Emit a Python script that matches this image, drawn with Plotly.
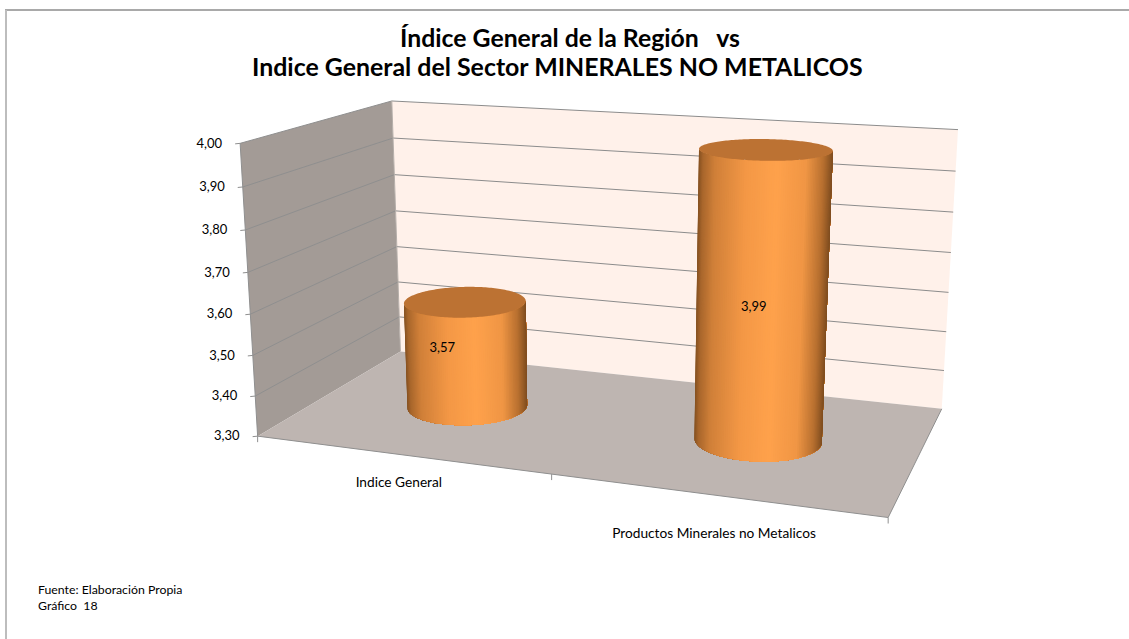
import numpy as np
import plotly.graph_objects as go

# ---- data ----
categories = ["Indice General", "Productos Minerales no Metalicos"]
values = [3.57, 3.99]
value_labels = ["3,57", "3,99"]
axis_ticks = [3.3, 3.4, 3.5, 3.6, 3.7, 3.8, 3.9, 4.0]
tick_labels = ["3,30", "3,40", "3,50", "3,60", "3,70", "3,80", "3,90", "4,00"]
title_lines = ["Índice General de la Región   vs", "Indice General del Sector MINERALES NO METALICOS"]
notes = ["Fuente: Elaboración Propia", "Gráfico  18"]

W, H = 1129, 639
# ---- oblique view of the chart box (the reference is a 3-D column chart) ----
EYE = np.array([1.0365, -2.9271, 0.7776])
AIM = np.array([0.0084, -0.0537, -0.0627])
BOX = np.array([1.243, 0.6244, 0.5804])
FOCAL, CX, CY = 1623.4, 603.155, 320.526
fw = (AIM - EYE) / np.linalg.norm(AIM - EYE)
rt = np.cross(fw, [0, 0, 1.0]); rt /= np.linalg.norm(rt)
up = np.cross(rt, fw)
ZMIN, ZMAX = axis_ticks[0], axis_ticks[-1]


def world(u, v, val):
    return (np.array([u, v, (val - ZMIN) / (ZMAX - ZMIN)]) - 0.5) * BOX


def to_px(w):
    d = w - EYE
    z = d @ fw
    return CX + FOCAL * (d @ rt) / z, CY - FOCAL * (d @ up) / z


def project(u, v, val):
    return to_px(world(u, v, val))


fig = go.Figure()


def poly(points, color):
    xs = [p[0] for p in points]
    ys = [p[1] for p in points]
    fig.add_trace(go.Scatter(x=xs + xs[:1], y=ys + ys[:1], mode="none", fill="toself", fillcolor=color,
                             hoverinfo="skip", showlegend=False))


def path(points, color, width=1.0):
    fig.add_trace(go.Scatter(x=[p[0] for p in points], y=[p[1] for p in points], mode="lines",
                             line=dict(color=color, width=width), hoverinfo="skip", showlegend=False))


# walls and floor
poly([project(0, 0, ZMIN), project(0, 1, ZMIN), project(0, 1, ZMAX), project(0, 0, ZMAX)], "#A39B96")
poly([project(0, 1, ZMIN), project(1, 1, ZMIN), project(1, 1, ZMAX), project(0, 1, ZMAX)], "#FFF1EA")
poly([project(0, 0, ZMIN), project(1, 0, ZMIN), project(1, 1, ZMIN), project(0, 1, ZMIN)], "#BEB5B1")

# gridlines along both walls
for t in axis_ticks[1:]:
    path([project(0, 0, t), project(0, 1, t)], "#8F8F8F", 1)
    path([project(0, 1, t), project(1, 1, t)], "#8C8C8C", 1)
path([project(0, 1, ZMIN), project(0, 1, ZMAX)], "#B5AEA9", 1)
# axis lines and tick marks
path([project(0, 0, ZMIN), project(0, 0, ZMAX)], "#8F8F8F", 1)
path([project(0, 0, ZMIN), project(1, 0, ZMIN), project(1, 1, ZMIN)], "#8F8F8F", 1)
for t in axis_ticks:
    x, y = project(0, 0, t)
    path([(x - 5, y + 0.5), (x, y)], "#8F8F8F", 1)
for u in (0, 0.5, 1):
    x, y = project(u, 0, ZMIN)
    path([(x, y), (x, y + 6)], "#8F8F8F", 1)
fig.add_trace(go.Scatter(x=[project(0, 0, t)[0] - 18 for t in axis_ticks],
                         y=[project(0, 0, t)[1] + 1 for t in axis_ticks],
                         text=tick_labels, mode="text", textposition="middle left",
                         textfont=dict(family="Lato", size=13, color="#000000"),
                         hoverinfo="skip", showlegend=False))

# cylinders
SHADE_T = [0.0, 0.03, 0.12, 0.35, 0.58, 0.8, 0.93, 1.0]
SHADE_C = [(0x86, 0x52, 0x22), (0xA8, 0x66, 0x2C), (0xD0, 0x80, 0x39), (0xF4, 0x98, 0x46),
           (0xFF, 0xA2, 0x4C), (0xF0, 0x96, 0x45), (0xB8, 0x70, 0x30), (0x80, 0x4E, 0x20)]
TOP_COLOR = "#BC7233"
CENTER_U = [0.25, 0.75]
CENTER_V = 0.5
RADIUS = 0.124
N = 180
for cu, val in zip(CENTER_U, values):
    c0 = world(cu, CENTER_V, ZMIN)
    c1 = world(cu, CENTER_V, val)
    # the front half of the rim, from the left silhouette to the right one
    view = (c0 - EYE) * np.array([1, 1, 0])
    a0 = np.arctan2(view[1], view[0]) + np.pi
    front = a0 - np.arccos(np.clip(RADIUS / np.linalg.norm(view), -1, 1))
    back = a0 + np.arccos(np.clip(RADIUS / np.linalg.norm(view), -1, 1))
    ang = np.linspace(back, front, N // 2 + 1)
    rim = np.stack([np.cos(ang), np.sin(ang), 0 * ang], axis=1) * RADIUS
    xs_mid = [to_px((c0 + c1) / 2 + r)[0] for r in rim]
    if xs_mid[0] > xs_mid[-1]:
        rim = rim[::-1]
        xs_mid = xs_mid[::-1]
    lo, hi = xs_mid[0], xs_mid[-1]
    # each band is painted from its left edge to the right silhouette, so no seams appear
    for i in range(len(rim) - 1):
        t = ((xs_mid[i] + xs_mid[i + 1]) / 2 - lo) / (hi - lo)
        col = [float(np.interp(t, SHADE_T, [c[k] for c in SHADE_C])) for k in range(3)]
        color = "rgb(%d,%d,%d)" % tuple(col)
        poly([to_px(c0 + r) for r in rim[i:]] + [to_px(c1 + r) for r in rim[i:][::-1]], color)
    full = np.linspace(0, 2 * np.pi, N, endpoint=False)
    poly([to_px(c1 + np.array([np.cos(a), np.sin(a), 0.0]) * RADIUS) for a in full], TOP_COLOR)

# value labels
LABEL_SHIFT = [(-24, -5), (-8, 10)]
lx, ly = [], []
for cu, val, s in zip(CENTER_U, values, LABEL_SHIFT):
    x, y = project(cu, CENTER_V, (ZMIN + val) / 2)
    lx.append(x + s[0]); ly.append(y + s[1])
fig.add_trace(go.Scatter(x=lx, y=ly, text=value_labels, mode="text", textposition="middle center",
                         textfont=dict(family="Lato", size=13, color="#000000"),
                         hoverinfo="skip", showlegend=False))

# category labels
CAT_U = [0.25, 0.75]
CAT_SHIFT = [(-1, 29), (0, 40)]
cx_, cy_ = [], []
for u, s in zip(CAT_U, CAT_SHIFT):
    x, y = project(u, 0, ZMIN)
    cx_.append(x + s[0]); cy_.append(y + s[1])
fig.add_trace(go.Scatter(x=cx_, y=cy_, text=categories, mode="text", textposition="middle center",
                         textfont=dict(family="Lato", size=13.7, color="#000000"),
                         hoverinfo="skip", showlegend=False))

fig.update_layout(
    width=W, height=H, autosize=False,
    margin=dict(l=0, r=0, t=0, b=0),
    paper_bgcolor="#FFFFFF", plot_bgcolor="#FFFFFF",
    xaxis=dict(range=[0, W], visible=False, fixedrange=True),
    yaxis=dict(range=[H, 0], visible=False, fixedrange=True),
    title=dict(text="<b>" + title_lines[0] + "</b>",
               x=570 / W, xanchor="center", y=1 - 38 / H, yanchor="middle",
               font=dict(family="Lato", size=24.8, color="#000000")),
    annotations=[dict(text="<b>" + title_lines[1] + "</b>", xref="paper", yref="paper", x=557 / W, y=1 - 66 / H,
                      xanchor="center", yanchor="middle", showarrow=False,
                      font=dict(family="Lato", size=24.9, color="#000000")),
                 dict(text=notes[0] + "<br>" + notes[1], xref="paper", yref="paper", x=36 / W, y=1 - 580 / H,
                      xanchor="left", yanchor="top", align="left", showarrow=False,
                      font=dict(family="Lato", size=12.3, color="#000000"))],
    shapes=[dict(type="line", xref="x", yref="y", x0=5, x1=W, y0=10, y1=10, line=dict(color="#8C8C8C", width=1.5)),
            dict(type="line", xref="x", yref="y", x0=6, x1=6, y0=10, y1=H, line=dict(color="#BDBDBD", width=2))],
)
fig.write_html("out.html", config={"displayModeBar": False},
               post_script="document.body.style.margin='0';document.documentElement.style.overflow='hidden';")
